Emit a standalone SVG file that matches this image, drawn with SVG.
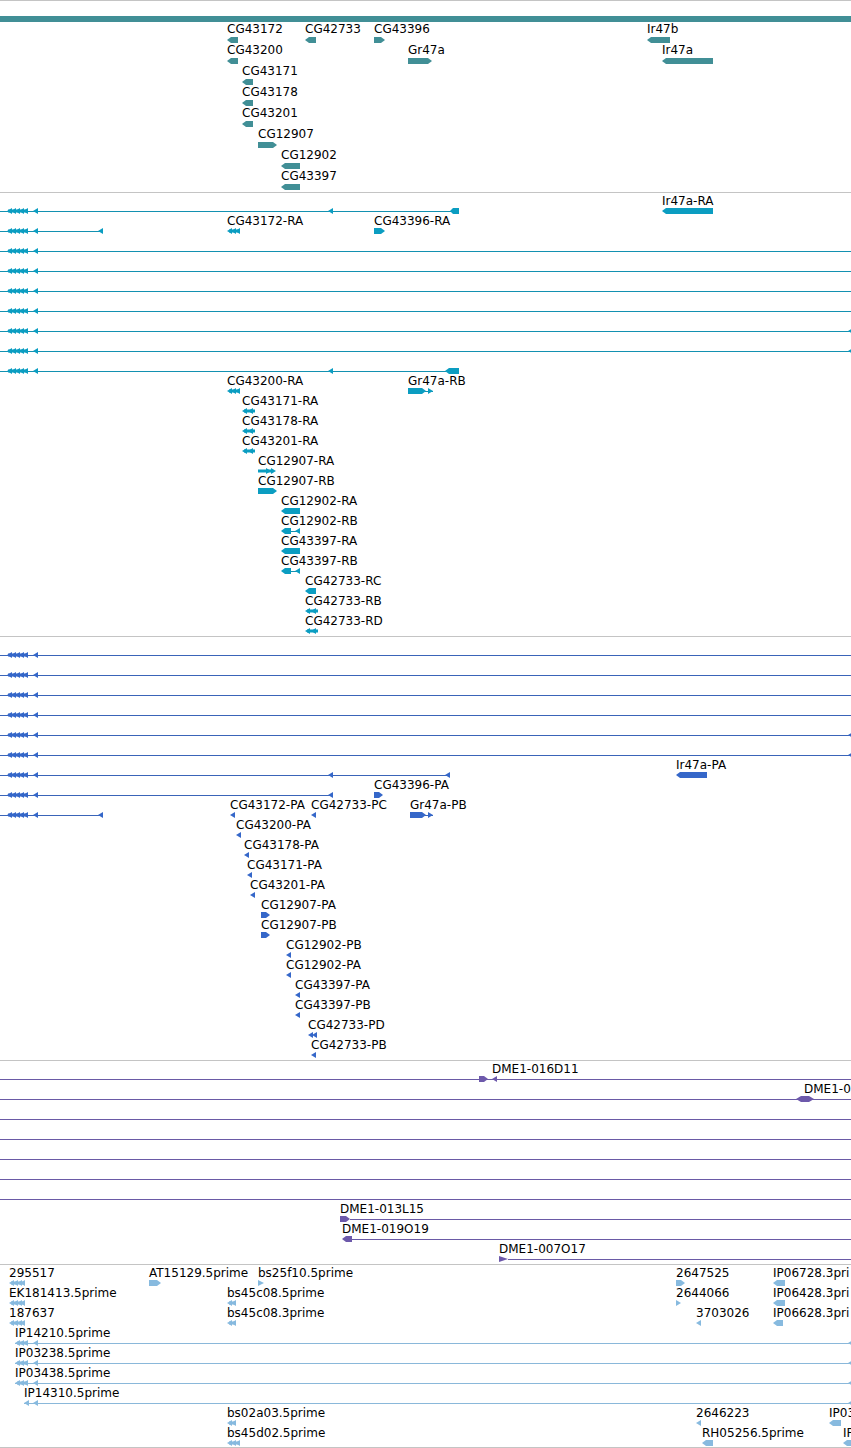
<svg xmlns="http://www.w3.org/2000/svg" xmlns:xlink="http://www.w3.org/1999/xlink" width="851" height="1448" viewBox="0 0 851 1448">
<style>
.lbl{font-family:"DejaVu Sans","Liberation Sans",sans-serif;font-size:12px;fill:#000}
.sep{stroke:#c4c4c4;stroke-width:1}
.s1{fill:#418f96}
.s2{fill:#0b9dc1}
.s2 line{stroke:#1391b1;stroke-width:1}
.s3{fill:#3567c9}
.s3 line{stroke:#3a64b8;stroke-width:1}
.s4{fill:#6d59ab}
.s4 line{stroke:#6a5aa6;stroke-width:1}
.s5{fill:#87badf}
.s5 line{stroke:#8ab8da;stroke-width:1}
line{shape-rendering:crispEdges}
</style>
<defs>
<polygon id="L" points="0,0 5,-3 5,3"/>
<polygon id="R" points="0,0 -5,-3 -5,3"/>
<g id="cl"><rect x="8" y="-1.5" width="20" height="3"/><use href="#L" x="7"/><use href="#L" x="11"/><use href="#L" x="15"/><use href="#L" x="19"/><use href="#L" x="23"/></g>
<g id="L4"><rect x="2" y="-1.5" width="13" height="3"/><use href="#L"/><use href="#L" x="4"/><use href="#L" x="8"/><use href="#L" x="11"/></g>
<g id="L3"><rect x="2" y="-1.5" width="11" height="3"/><use href="#L"/><use href="#L" x="4"/><use href="#L" x="8"/></g>
<g id="L2"><rect x="2" y="-1.5" width="11" height="3"/><use href="#L"/><use href="#L" x="6"/></g>
<g id="L2s"><rect x="2" y="-1.5" width="7" height="3"/><use href="#L"/><use href="#L" x="4"/></g>
<g id="R2"><rect x="0" y="-1.5" width="14" height="3"/><use href="#R" x="13"/><use href="#R" x="18"/></g>
</defs>
<rect width="851" height="1448" fill="#fff"/>
<g id="separators">
<line class="sep" x1="0" y1="0.5" x2="851" y2="0.5"/>
<line class="sep" x1="0" y1="192.5" x2="851" y2="192.5"/>
<line class="sep" x1="0" y1="636.5" x2="851" y2="636.5"/>
<line class="sep" x1="0" y1="1060.5" x2="851" y2="1060.5"/>
<line class="sep" x1="0" y1="1264.5" x2="851" y2="1264.5"/>
<line class="sep" x1="0" y1="1447.5" x2="851" y2="1447.5"/>
</g>

<g id="genes" class="s1">
<rect id="chrom-bar" x="0" y="16" width="851" height="6"/>
<g id="CG43172"><text class="lbl" x="227" y="33">CG43172</text><polygon points="227,40 231,37 238,37 238,43 231,43"/></g>
<g id="CG42733"><text class="lbl" x="305" y="33">CG42733</text><polygon points="305,40 309,37 316,37 316,43 309,43"/></g>
<g id="CG43396"><text class="lbl" x="374" y="33">CG43396</text><polygon points="374,37 381,37 385,40 381,43 374,43"/></g>
<g id="Ir47b"><text class="lbl" x="647" y="33">Ir47b</text><polygon points="647,40 651,37 670,37 670,43 651,43"/></g>
<g id="CG43200"><text class="lbl" x="227" y="54">CG43200</text><polygon points="227,61 231,58 238,58 238,64 231,64"/></g>
<g id="Gr47a"><text class="lbl" x="408" y="54">Gr47a</text><polygon points="408,58 428,58 432,61 428,64 408,64"/></g>
<g id="Ir47a"><text class="lbl" x="662" y="54">Ir47a</text><polygon points="662,61 666,58 713,58 713,64 666,64"/></g>
<g id="CG43171"><text class="lbl" x="242" y="75">CG43171</text><polygon points="242,82 246,79 253,79 253,85 246,85"/></g>
<g id="CG43178"><text class="lbl" x="242" y="96">CG43178</text><polygon points="242,103 246,100 253,100 253,106 246,106"/></g>
<g id="CG43201"><text class="lbl" x="242" y="117">CG43201</text><polygon points="242,124 246,121 253,121 253,127 246,127"/></g>
<g id="CG12907"><text class="lbl" x="258" y="138">CG12907</text><polygon points="258,142 273,142 277,145 273,148 258,148"/></g>
<g id="CG12902"><text class="lbl" x="281" y="159">CG12902</text><polygon points="281,166 285,163 300,163 300,169 285,169"/></g>
<g id="CG43397"><text class="lbl" x="281" y="180">CG43397</text><polygon points="281,187 285,184 300,184 300,190 285,190"/></g>
</g>

<g id="transcripts" class="s2">
<g id="tr-r211" transform="translate(0,211)"><line x1="0" y1="0" x2="452" y2="0"/><use href="#cl"/><use href="#L" x="33"/><use href="#L" x="328"/><polygon points="450,0 453,-3 459,-3 459,3 453,3"/></g>
<g id="Ir47a-RA" transform="translate(0,211)"><text class="lbl" x="662" y="-6">Ir47a-RA</text><polygon points="662,0 666,-3 713,-3 713,3 666,3"/></g>
<g id="tr-r231" transform="translate(0,231)"><line x1="0" y1="0" x2="103" y2="0"/><use href="#cl"/><use href="#L" x="33"/><use href="#L" x="98"/></g>
<g id="CG43172-RA" transform="translate(0,231)"><text class="lbl" x="227" y="-6">CG43172-RA</text><use href="#L3" x="227"/></g>
<g id="CG43396-RA" transform="translate(0,231)"><text class="lbl" x="374" y="-6">CG43396-RA</text><polygon points="374,-3 381,-3 385,0 381,3 374,3"/></g>
<g id="tr-r251" transform="translate(0,251)"><line x1="0" y1="0" x2="851" y2="0"/><use href="#cl"/><use href="#L" x="33"/></g>
<g id="tr-r271" transform="translate(0,271)"><line x1="0" y1="0" x2="851" y2="0"/><use href="#cl"/><use href="#L" x="33"/></g>
<g id="tr-r291" transform="translate(0,291)"><line x1="0" y1="0" x2="851" y2="0"/><use href="#cl"/><use href="#L" x="33"/></g>
<g id="tr-r311" transform="translate(0,311)"><line x1="0" y1="0" x2="851" y2="0"/><use href="#cl"/><use href="#L" x="33"/></g>
<g id="tr-r331" transform="translate(0,331)"><line x1="0" y1="0" x2="851" y2="0"/><use href="#cl"/><use href="#L" x="33"/><use href="#L" x="848"/></g>
<g id="tr-r351" transform="translate(0,351)"><line x1="0" y1="0" x2="851" y2="0"/><use href="#cl"/><use href="#L" x="33"/><use href="#L" x="848"/></g>
<g id="tr-r371" transform="translate(0,371)"><line x1="0" y1="0" x2="446" y2="0"/><use href="#cl"/><use href="#L" x="33"/><use href="#L" x="328"/><polygon points="445,0 449,-3 459,-3 459,3 449,3"/></g>
<g id="CG43200-RA" transform="translate(0,391)"><text class="lbl" x="227" y="-6">CG43200-RA</text><use href="#L3" x="227"/></g>
<g id="Gr47a-RB" transform="translate(0,391)"><text class="lbl" x="408" y="-6">Gr47a-RB</text><polygon points="408,-3 422,-3 426,0 422,3 408,3"/><line x1="425" y1="0" x2="433" y2="0"/><use href="#R" x="433"/></g>
<g id="CG43171-RA" transform="translate(0,411)"><text class="lbl" x="242" y="-6">CG43171-RA</text><use href="#L2" x="242"/></g>
<g id="CG43178-RA" transform="translate(0,431)"><text class="lbl" x="242" y="-6">CG43178-RA</text><use href="#L2" x="242"/></g>
<g id="CG43201-RA" transform="translate(0,451)"><text class="lbl" x="242" y="-6">CG43201-RA</text><use href="#L2" x="242"/></g>
<g id="CG12907-RA" transform="translate(0,471)"><text class="lbl" x="258" y="-6">CG12907-RA</text><use href="#R2" x="258"/></g>
<g id="CG12907-RB" transform="translate(0,491)"><text class="lbl" x="258" y="-6">CG12907-RB</text><polygon points="258,-3 273,-3 277,0 273,3 258,3"/></g>
<g id="CG12902-RA" transform="translate(0,511)"><text class="lbl" x="281" y="-6">CG12902-RA</text><polygon points="281,0 285,-3 300,-3 300,3 285,3"/></g>
<g id="CG12902-RB" transform="translate(0,531)"><text class="lbl" x="281" y="-6">CG12902-RB</text><polygon points="281,0 285,-3 291,-3 291,3 285,3"/><line x1="291" y1="0" x2="300" y2="0"/><use href="#L" x="295"/></g>
<g id="CG43397-RA" transform="translate(0,551)"><text class="lbl" x="281" y="-6">CG43397-RA</text><polygon points="281,0 285,-3 300,-3 300,3 285,3"/></g>
<g id="CG43397-RB" transform="translate(0,571)"><text class="lbl" x="281" y="-6">CG43397-RB</text><polygon points="281,0 285,-3 291,-3 291,3 285,3"/><line x1="291" y1="0" x2="300" y2="0"/><use href="#L" x="295"/></g>
<g id="CG42733-RC" transform="translate(0,591)"><text class="lbl" x="305" y="-6">CG42733-RC</text><polygon points="305,0 309,-3 316,-3 316,3 309,3"/></g>
<g id="CG42733-RB" transform="translate(0,611)"><text class="lbl" x="305" y="-6">CG42733-RB</text><use href="#L2" x="305"/></g>
<g id="CG42733-RD" transform="translate(0,631)"><text class="lbl" x="305" y="-6">CG42733-RD</text><use href="#L2" x="305"/></g>
</g>

<g id="proteins" class="s3">
<g id="pr-r655" transform="translate(0,655)"><line x1="0" y1="0" x2="851" y2="0"/><use href="#cl"/><use href="#L" x="33"/></g>
<g id="pr-r675" transform="translate(0,675)"><line x1="0" y1="0" x2="851" y2="0"/><use href="#cl"/><use href="#L" x="33"/></g>
<g id="pr-r695" transform="translate(0,695)"><line x1="0" y1="0" x2="851" y2="0"/><use href="#cl"/><use href="#L" x="33"/></g>
<g id="pr-r715" transform="translate(0,715)"><line x1="0" y1="0" x2="851" y2="0"/><use href="#cl"/><use href="#L" x="33"/></g>
<g id="pr-r735" transform="translate(0,735)"><line x1="0" y1="0" x2="851" y2="0"/><use href="#cl"/><use href="#L" x="33"/><use href="#L" x="848"/></g>
<g id="pr-r755" transform="translate(0,755)"><line x1="0" y1="0" x2="851" y2="0"/><use href="#cl"/><use href="#L" x="33"/><use href="#L" x="848"/></g>
<g id="pr-r775" transform="translate(0,775)"><line x1="0" y1="0" x2="449" y2="0"/><use href="#cl"/><use href="#L" x="33"/><use href="#L" x="328"/><use href="#L" x="445"/></g>
<g id="Ir47a-PA" transform="translate(0,775)"><text class="lbl" x="676" y="-6">Ir47a-PA</text><polygon points="676,0 680,-3 707,-3 707,3 680,3"/></g>
<g id="pr-r795" transform="translate(0,795)"><line x1="0" y1="0" x2="333" y2="0"/><use href="#cl"/><use href="#L" x="33"/><use href="#L" x="328"/></g>
<g id="CG43396-PA" transform="translate(0,795)"><text class="lbl" x="374" y="-6">CG43396-PA</text><polygon points="374,-3 379,-3 383,0 379,3 374,3"/></g>
<g id="pr-r815" transform="translate(0,815)"><line x1="0" y1="0" x2="103" y2="0"/><use href="#cl"/><use href="#L" x="33"/><use href="#L" x="98"/></g>
<g id="CG43172-PA" transform="translate(0,815)"><text class="lbl" x="230" y="-6">CG43172-PA</text><use href="#L" x="230"/></g>
<g id="CG42733-PC" transform="translate(0,815)"><text class="lbl" x="311" y="-6">CG42733-PC</text><use href="#L" x="311"/></g>
<g id="Gr47a-PB" transform="translate(0,815)"><text class="lbl" x="410" y="-6">Gr47a-PB</text><polygon points="410,-3 422,-3 426,0 422,3 410,3"/><line x1="425" y1="0" x2="433" y2="0"/><use href="#R" x="433"/></g>
<g id="CG43200-PA" transform="translate(0,835)"><text class="lbl" x="236" y="-6">CG43200-PA</text><use href="#L" x="236"/></g>
<g id="CG43178-PA" transform="translate(0,855)"><text class="lbl" x="244" y="-6">CG43178-PA</text><use href="#L" x="244"/></g>
<g id="CG43171-PA" transform="translate(0,875)"><text class="lbl" x="247" y="-6">CG43171-PA</text><use href="#L" x="247"/></g>
<g id="CG43201-PA" transform="translate(0,895)"><text class="lbl" x="250" y="-6">CG43201-PA</text><use href="#L" x="250"/></g>
<g id="CG12907-PA" transform="translate(0,915)"><text class="lbl" x="261" y="-6">CG12907-PA</text><polygon points="261,-3 266,-3 270,0 266,3 261,3"/></g>
<g id="CG12907-PB" transform="translate(0,935)"><text class="lbl" x="261" y="-6">CG12907-PB</text><polygon points="261,-3 266,-3 270,0 266,3 261,3"/></g>
<g id="CG12902-PB" transform="translate(0,955)"><text class="lbl" x="286" y="-6">CG12902-PB</text><use href="#L" x="286"/></g>
<g id="CG12902-PA" transform="translate(0,975)"><text class="lbl" x="286" y="-6">CG12902-PA</text><use href="#L" x="286"/></g>
<g id="CG43397-PA" transform="translate(0,995)"><text class="lbl" x="295" y="-6">CG43397-PA</text><use href="#L" x="295"/></g>
<g id="CG43397-PB" transform="translate(0,1015)"><text class="lbl" x="295" y="-6">CG43397-PB</text><use href="#L" x="295"/></g>
<g id="CG42733-PD" transform="translate(0,1035)"><text class="lbl" x="308" y="-6">CG42733-PD</text><use href="#L" x="308"/><use href="#L" x="312"/></g>
<g id="CG42733-PB" transform="translate(0,1055)"><text class="lbl" x="311" y="-6">CG42733-PB</text><use href="#L" x="311"/></g>
</g>

<g id="clones" class="s4">
<g id="DME1-016D11" transform="translate(0,1079)"><line x1="0" y1="0" x2="851" y2="0"/><polygon points="479,-3 484,-3 488,0 484,3 479,3"/><use href="#L" x="492"/><text class="lbl" x="492" y="-6">DME1-016D11</text></g>
<g id="DME1-0" transform="translate(0,1099)"><line x1="0" y1="0" x2="851" y2="0"/><polygon points="796,0 801,-3 809,-3 814,0 809,3 801,3"/><text class="lbl" x="804" y="-6">DME1-0</text></g>
<g id="cl-r1119" transform="translate(0,1119)"><line x1="0" y1="0" x2="851" y2="0"/></g>
<g id="cl-r1139" transform="translate(0,1139)"><line x1="0" y1="0" x2="851" y2="0"/></g>
<g id="cl-r1159" transform="translate(0,1159)"><line x1="0" y1="0" x2="851" y2="0"/></g>
<g id="cl-r1179" transform="translate(0,1179)"><line x1="0" y1="0" x2="851" y2="0"/></g>
<g id="cl-r1199" transform="translate(0,1199)"><line x1="0" y1="0" x2="851" y2="0"/></g>
<g id="DME1-013L15" transform="translate(0,1219)"><text class="lbl" x="340" y="-6">DME1-013L15</text><polygon points="340,-3 346,-3 350,0 346,3 340,3"/><line x1="350" y1="0" x2="851" y2="0"/></g>
<g id="DME1-019O19" transform="translate(0,1239)"><text class="lbl" x="342" y="-6">DME1-019O19</text><polygon points="342,0 346,-3 352,-3 352,3 346,3"/><line x1="352" y1="0" x2="851" y2="0"/></g>
<g id="DME1-007O17" transform="translate(0,1259)"><text class="lbl" x="499" y="-6">DME1-007O17</text><polygon points="499,-3 508,0 499,3"/><line x1="508" y1="0" x2="851" y2="0"/></g>
</g>

<g id="ests" class="s5">
<g id="e295517" transform="translate(0,1283)"><text class="lbl" x="9" y="-6">295517</text><use href="#L4" x="9"/></g>
<g id="AT15129.5prime" transform="translate(0,1283)"><text class="lbl" x="149" y="-6">AT15129.5prime</text><polygon points="149,-3 157,-3 161,0 157,3 149,3"/></g>
<g id="bs25f10.5prime" transform="translate(0,1283)"><text class="lbl" x="258" y="-6">bs25f10.5prime</text><polygon points="258,-3 264,0 258,3"/></g>
<g id="e2647525" transform="translate(0,1283)"><text class="lbl" x="676" y="-6">2647525</text><polygon points="676,-3 681,-3 685,0 681,3 676,3"/></g>
<g id="IP06728.3prime" transform="translate(0,1283)"><text class="lbl" x="773" y="-6">IP06728.3pri</text><polygon points="773,0 777,-3 785,-3 785,3 777,3"/></g>
<g id="EK181413.5prime" transform="translate(0,1303)"><text class="lbl" x="9" y="-6">EK181413.5prime</text><use href="#L4" x="9"/></g>
<g id="bs45c08.5prime" transform="translate(0,1303)"><text class="lbl" x="227" y="-6">bs45c08.5prime</text><use href="#L2s" x="227"/></g>
<g id="e2644066" transform="translate(0,1303)"><text class="lbl" x="676" y="-6">2644066</text><polygon points="676,-3 681,0 676,3"/></g>
<g id="IP06428.3prime" transform="translate(0,1303)"><text class="lbl" x="773" y="-6">IP06428.3pri</text><polygon points="773,0 777,-3 785,-3 785,3 777,3"/></g>
<g id="e187637" transform="translate(0,1323)"><text class="lbl" x="9" y="-6">187637</text><use href="#L4" x="9"/></g>
<g id="bs45c08.3prime" transform="translate(0,1323)"><text class="lbl" x="227" y="-6">bs45c08.3prime</text><use href="#L2s" x="227"/></g>
<g id="e3703026" transform="translate(0,1323)"><text class="lbl" x="696" y="-6">3703026</text><use href="#L" x="696"/></g>
<g id="IP06628.3prime" transform="translate(0,1323)"><text class="lbl" x="773" y="-6">IP06628.3pri</text><polygon points="773,0 777,-3 783,-3 783,3 777,3"/></g>
<g id="IP14210.5prime" transform="translate(0,1343)"><text class="lbl" x="15" y="-6">IP14210.5prime</text><line x1="15" y1="0" x2="851" y2="0"/><use href="#L3" x="15"/><use href="#L" x="33"/><use href="#L" x="848"/></g>
<g id="IP03238.5prime" transform="translate(0,1363)"><text class="lbl" x="15" y="-6">IP03238.5prime</text><line x1="15" y1="0" x2="851" y2="0"/><use href="#L3" x="15"/><use href="#L" x="33"/><use href="#L" x="848"/></g>
<g id="IP03438.5prime" transform="translate(0,1383)"><text class="lbl" x="15" y="-6">IP03438.5prime</text><line x1="15" y1="0" x2="851" y2="0"/><use href="#L3" x="15"/><use href="#L" x="33"/><use href="#L" x="848"/></g>
<g id="IP14310.5prime" transform="translate(0,1403)"><text class="lbl" x="24" y="-6">IP14310.5prime</text><line x1="24" y1="0" x2="851" y2="0"/><use href="#L" x="24"/><use href="#L" x="33"/><use href="#L" x="848"/></g>
<g id="bs02a03.5prime" transform="translate(0,1423)"><text class="lbl" x="227" y="-6">bs02a03.5prime</text><use href="#L2s" x="227"/></g>
<g id="e2646223" transform="translate(0,1423)"><text class="lbl" x="696" y="-6">2646223</text><use href="#L" x="696"/></g>
<g id="IP03" transform="translate(0,1423)"><text class="lbl" x="829" y="-6">IP03</text><polygon points="829,0 833,-3 841,-3 841,3 833,3"/></g>
<g id="bs45d02.5prime" transform="translate(0,1443)"><text class="lbl" x="227" y="-6">bs45d02.5prime</text><use href="#L3" x="227"/></g>
<g id="RH05256.5prime" transform="translate(0,1443)"><text class="lbl" x="702" y="-6">RH05256.5prime</text><polygon points="702,0 706,-3 713,-3 713,3 706,3"/></g>
<g id="IP" transform="translate(0,1443)"><text class="lbl" x="843" y="-6">IP</text><polygon points="843,0 847,-3 852,-3 852,3 847,3"/></g>
</g>
</svg>
